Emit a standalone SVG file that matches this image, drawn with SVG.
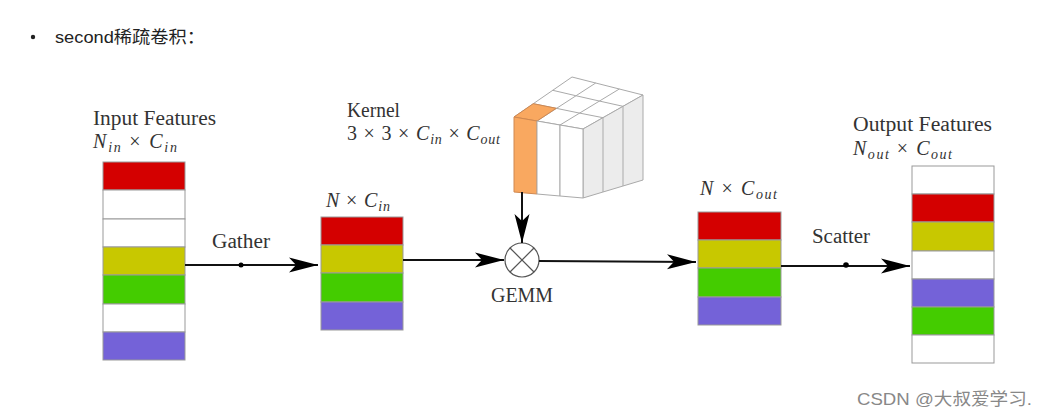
<svg xmlns="http://www.w3.org/2000/svg" width="1047" height="417" viewBox="0 0 1047 417">
<style>
.t{font-family:"Liberation Serif","DejaVu Serif",serif;font-size:20px;fill:#333}
.m{font-style:italic}
.s{font-size:14px}
.cell{stroke:#999;stroke-width:1}
.r{fill:#d40000}.y{fill:#c8c800}.g{fill:#44cc00}.p{fill:#7462d8}.w{fill:#fff}
.ln{stroke:#111;stroke-width:2;fill:none}
.k{stroke:#aaa;stroke-width:1}
</style>
<defs>
<marker id="ah" markerUnits="userSpaceOnUse" markerWidth="32" markerHeight="18" viewBox="-1 -9 32 18" refX="29" refY="0" orient="auto">
<path d="M0,-7.5 L29,0 L0,7.5 L7,0 z" fill="#000"/>
</marker>
</defs>
<rect width="1047" height="417" fill="#fff"/>
<g id="header">
<circle cx="33" cy="37" r="2.2" fill="#222"/>
<text x="55" y="43" font-family="'Liberation Sans','Noto Sans CJK SC',sans-serif" font-size="17" fill="#222" textLength="150" lengthAdjust="spacingAndGlyphs">second稀疏卷积：</text>
</g>
<g id="input">
<text class="t" x="93" y="125" textLength="123" lengthAdjust="spacingAndGlyphs">Input Features</text>
<text class="t" x="93" y="148" textLength="84" lengthAdjust="spacing"><tspan class="m">N</tspan><tspan class="m s" dy="4">in</tspan><tspan dy="-4"> × </tspan><tspan class="m">C</tspan><tspan class="m s" dy="4">in</tspan></text>
<rect class="cell r" x="103" y="162" width="82" height="28"/>
<rect class="cell w" x="103" y="190" width="82" height="29"/>
<rect class="cell w" x="103" y="219" width="82" height="28"/>
<rect class="cell y" x="103" y="247" width="82" height="28"/>
<rect class="cell g" x="103" y="275" width="82" height="29"/>
<rect class="cell w" x="103" y="304" width="82" height="28"/>
<rect class="cell p" x="103" y="332" width="82" height="28"/>
</g>
<g id="gathered">
<text class="t" x="326" y="207" textLength="64" lengthAdjust="spacing"><tspan class="m">N</tspan><tspan> × </tspan><tspan class="m">C</tspan><tspan class="m s" dy="4">in</tspan></text>
<rect class="cell r" x="321" y="217" width="82" height="28"/>
<rect class="cell y" x="321" y="245" width="82" height="28"/>
<rect class="cell g" x="321" y="273" width="82" height="29"/>
<rect class="cell p" x="321" y="302" width="82" height="28"/>
</g>
<g id="kernel">
<text class="t" x="347" y="117" textLength="53" lengthAdjust="spacingAndGlyphs">Kernel</text>
<text class="t" x="347" y="140" textLength="153" lengthAdjust="spacing"><tspan>3 × 3 × </tspan><tspan class="m">C</tspan><tspan class="m s" dy="4">in</tspan><tspan dy="-4"> × </tspan><tspan class="m">C</tspan><tspan class="m s" dy="4">out</tspan></text>
<polygon class="k" fill="#fff" points="514,117 583,129 643,95 572,77"/>
<polygon class="k" fill="#ececec" points="583,129 643,95 643,180 583,198"/>
<line class="k" x1="603" y1="117.7" x2="603" y2="192"/>
<line class="k" x1="623" y1="106.3" x2="623" y2="186"/>
<polyline class="k" fill="none" points="533.3,103.7 556.2,108.3 579.1,113 603,117.7"/>
<polyline class="k" fill="none" points="552.7,90.3 575.8,95.7 599.2,101 623,106.3"/>
<line class="k" x1="537" y1="121" x2="595.7" y2="83"/>
<line class="k" x1="560" y1="125" x2="619.3" y2="89"/>
<polygon fill="#f9a860" stroke="#d08850" stroke-width="1" points="514,117 537,121 556.2,108.3 533.3,103.7"/>
<polygon fill="#f9a860" stroke="#d08850" stroke-width="1" points="514,117 537,121 537,194 514,192"/>
<polygon class="k" fill="#fff" points="537,121 560,125 560,196 537,194"/>
<polygon class="k" fill="#fff" points="560,125 583,129 583,198 560,196"/>
</g>
<g id="gemm">
<circle cx="522" cy="260" r="17" fill="#fff" stroke="#555" stroke-width="1.2"/>
<line x1="510" y1="248" x2="534" y2="272" stroke="#555" stroke-width="1.2"/>
<line x1="534" y1="248" x2="510" y2="272" stroke="#555" stroke-width="1.2"/>
<text class="t" x="491" y="302" textLength="62" lengthAdjust="spacingAndGlyphs">GEMM</text>
</g>
<g id="result">
<text class="t" x="700" y="195" textLength="77" lengthAdjust="spacing"><tspan class="m">N</tspan><tspan> × </tspan><tspan class="m">C</tspan><tspan class="m s" dy="4">out</tspan></text>
<rect class="cell r" x="698" y="212" width="83" height="28"/>
<rect class="cell y" x="698" y="240" width="83" height="28"/>
<rect class="cell g" x="698" y="268" width="83" height="29"/>
<rect class="cell p" x="698" y="297" width="83" height="28"/>
</g>
<g id="output">
<text class="t" x="853" y="131" textLength="139" lengthAdjust="spacingAndGlyphs">Output Features</text>
<text class="t" x="853" y="155" textLength="99" lengthAdjust="spacing"><tspan class="m">N</tspan><tspan class="m s" dy="4">out</tspan><tspan dy="-4"> × </tspan><tspan class="m">C</tspan><tspan class="m s" dy="4">out</tspan></text>
<rect class="cell w" x="912" y="166" width="82" height="28"/>
<rect class="cell r" x="912" y="194" width="82" height="28"/>
<rect class="cell y" x="912" y="222" width="82" height="29"/>
<rect class="cell w" x="912" y="251" width="82" height="28"/>
<rect class="cell p" x="912" y="279" width="82" height="28"/>
<rect class="cell g" x="912" y="307" width="82" height="28"/>
<rect class="cell w" x="912" y="335" width="82" height="28"/>
</g>
<g id="connectors">
<line class="ln" x1="185" y1="265" x2="318" y2="265" marker-end="url(#ah)"/>
<circle cx="241" cy="265" r="2.5" fill="#000"/>
<text class="t" x="212" y="248" textLength="58" lengthAdjust="spacingAndGlyphs">Gather</text>
<line class="ln" x1="403" y1="260" x2="504" y2="260" marker-end="url(#ah)"/>
<line class="ln" x1="522" y1="192" x2="522" y2="243" marker-end="url(#ah)"/>
<line class="ln" x1="539" y1="261" x2="696" y2="262" marker-end="url(#ah)"/>
<line class="ln" x1="781" y1="266" x2="910" y2="266" marker-end="url(#ah)"/>
<circle cx="846" cy="265" r="2.8" fill="#000"/>
<text class="t" x="812" y="243" textLength="58" lengthAdjust="spacingAndGlyphs">Scatter</text>
</g>
<g id="watermark">
<text x="857" y="405" font-family="'Liberation Sans','Noto Sans CJK SC',sans-serif" font-size="17" fill="#888" textLength="175" lengthAdjust="spacingAndGlyphs">CSDN @大叔爱学习.</text>
</g>
</svg>
